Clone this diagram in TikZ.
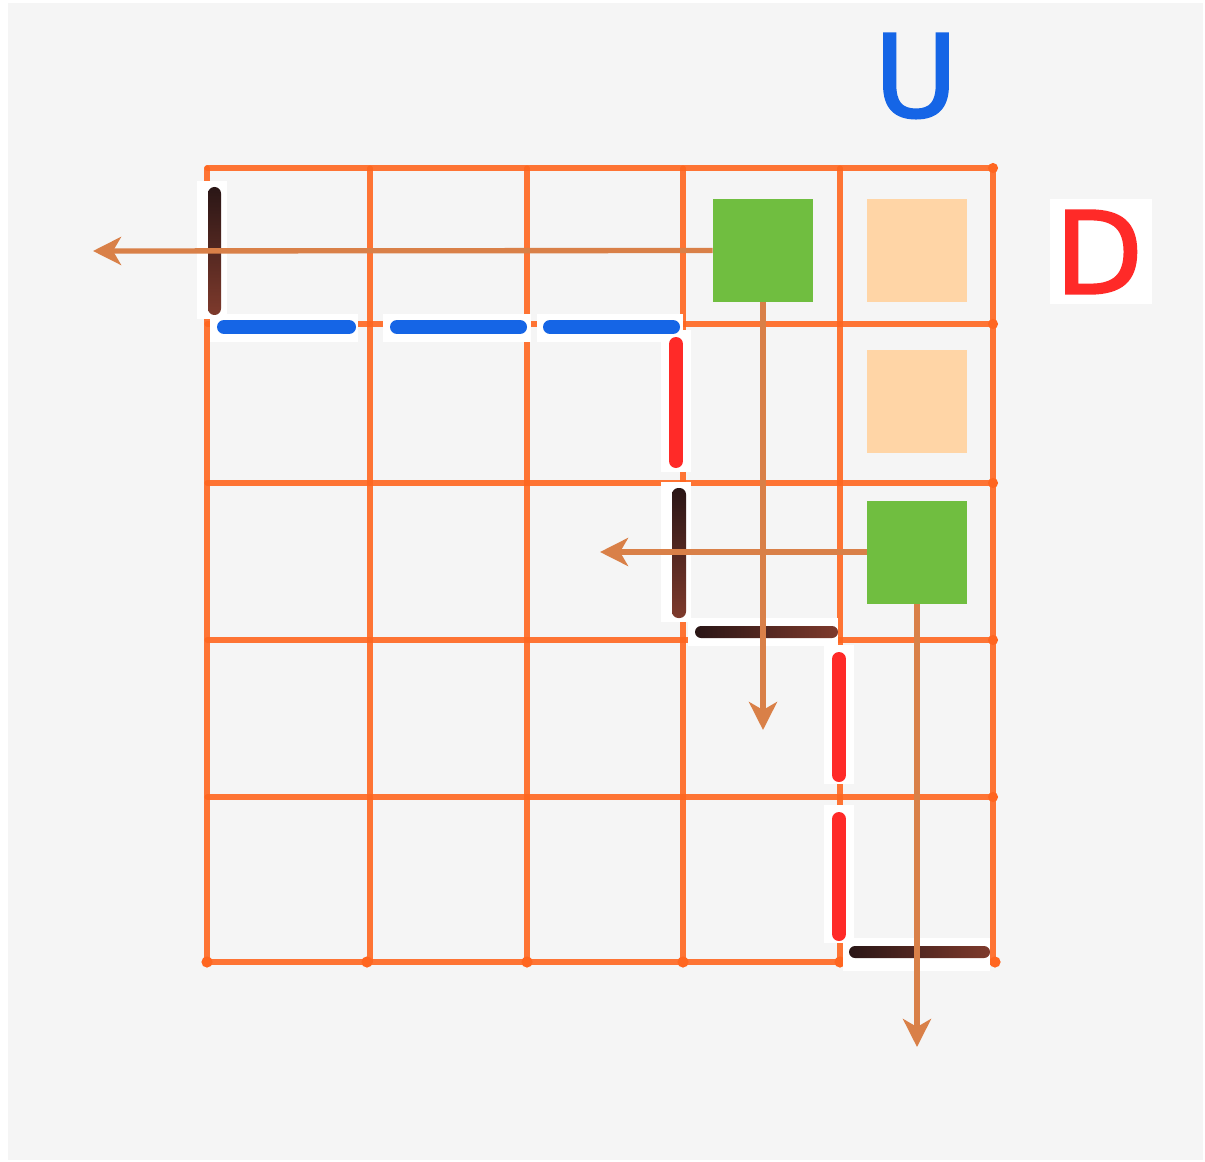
\documentclass[tikz,border=0pt]{standalone}
\usepackage{fontspec}
\newfontfamily\lettfont[FakeBold=1.6]{DejaVu Sans}
\usetikzlibrary{arrows.meta}
\definecolor{bg}{HTML}{F5F5F5}
\definecolor{gridor}{HTML}{FF6620}
\definecolor{arrcol}{HTML}{D98048}
\definecolor{sqgreen}{HTML}{70BE40}
\definecolor{sqpeach}{HTML}{FFD5A6}
\definecolor{mblue}{HTML}{1565E6}
\definecolor{mred}{HTML}{FF2A28}
\definecolor{brownA}{HTML}{2A1616}
\definecolor{brownB}{HTML}{7E3A2C}
\tikzset{
  gridline/.style={draw=gridor, line width=3.8pt, line cap=round, opacity=0.9},
  griddot/.style={fill=gridor},
  patch/.style={fill=white},
  bluestroke/.style={draw=mblue, line width=10.5pt, line cap=round},
  redstroke/.style={draw=mred, line width=10.5pt, line cap=round},
  brownv/.style={top color=brownA, bottom color=brownB, rounded corners=4.8pt},
  brownh/.style={left color=brownA, right color=brownB, rounded corners=4.5pt},
  sqbox/.style={inner sep=0pt, minimum width=75pt, minimum height=77.25pt, draw=none},
  greenbox/.style={sqbox, fill=sqgreen},
  peachbox/.style={sqbox, fill=sqpeach},
  arr/.style={draw=arrcol, line width=4pt, -{Stealth[length=21pt,width=21pt,inset=6pt]}},
  letter/.style={inner sep=0pt, font=\lettfont\fontsize{86}{86}\selectfont}
}
\begin{document}
\begin{tikzpicture}[x=0.75pt,y=-0.75pt]
\useasboundingbox (0,0) rectangle (1205,1162);
\fill[white] (0,0) rectangle (1205,1162);
\fill[bg] (8,3) rectangle (1203,1160);

% grid
\foreach \yy in {168,324,483,640,797,962}
  \draw[gridline] (207,\yy) -- (993,\yy);
\foreach \xx in {207,370,527,683,840,993}
  \draw[gridline] (\xx,168) -- (\xx,962);
\foreach \xx in {207,367,527,683,840,995}
  \fill[griddot] (\xx,962) circle (4.2pt);
\foreach \yy in {168,324,483,640,797}
  \fill[griddot] (993,\yy) circle (3.8pt);

% white patches
\fill[patch] (197,181) rectangle (227,319);
\fill[patch] (210,314) rectangle (358,342);
\fill[patch] (383,314) rectangle (531,342);
\fill[patch] (537,314) rectangle (683,342);
\fill[patch] (661,330) rectangle (691,472);
\fill[patch] (661,482) rectangle (691,622);
\fill[patch] (688,618) rectangle (838,646);
\fill[patch] (824,645) rectangle (854,784);
\fill[patch] (824,805) rectangle (854,943);
\fill[patch] (843,938) rectangle (990,971);

% marker strokes
\shade[brownv] (208,187) rectangle (221,315);
\draw[bluestroke] (224,327) -- (349,327);
\draw[bluestroke] (397,327) -- (520,327);
\draw[bluestroke] (550,327) -- (673,327);
\draw[redstroke] (676,344) -- (676,461);
\shade[brownv] (672,488) rectangle (686,618);
\shade[brownh] (695,626) rectangle (838,638);
\draw[redstroke] (839,659) -- (839,775);
\draw[redstroke] (839,819) -- (839,934);
\shade[brownh] (849,946) rectangle (990,958);

% squares
\node[greenbox] (g1) at (763,250.5) {};
\node[peachbox] (p1) at (917,250.5) {};
\node[peachbox] (p2) at (917,401.5) {};
\node[greenbox] (g2) at (917,552) {};

% letters
\fill[patch] (1050,199) rectangle (1152,304);
\node[letter, text=mblue] (U) at (916,76) {U};
\node[letter, text=mred] (D) at (1099,252) {D};

% arrows
\coordinate (e1) at (93,251);
\coordinate (e2) at (763,730);
\coordinate (e3) at (600,552);
\coordinate (e4) at (917,1047);
\draw[arr] (g1.west) -- (e1);
\draw[arr] (g1.south) -- (e2);
\draw[arr] (g2.west) -- (e3);
\draw[arr] (g2.south) -- (e4);
\end{tikzpicture}
\end{document}
